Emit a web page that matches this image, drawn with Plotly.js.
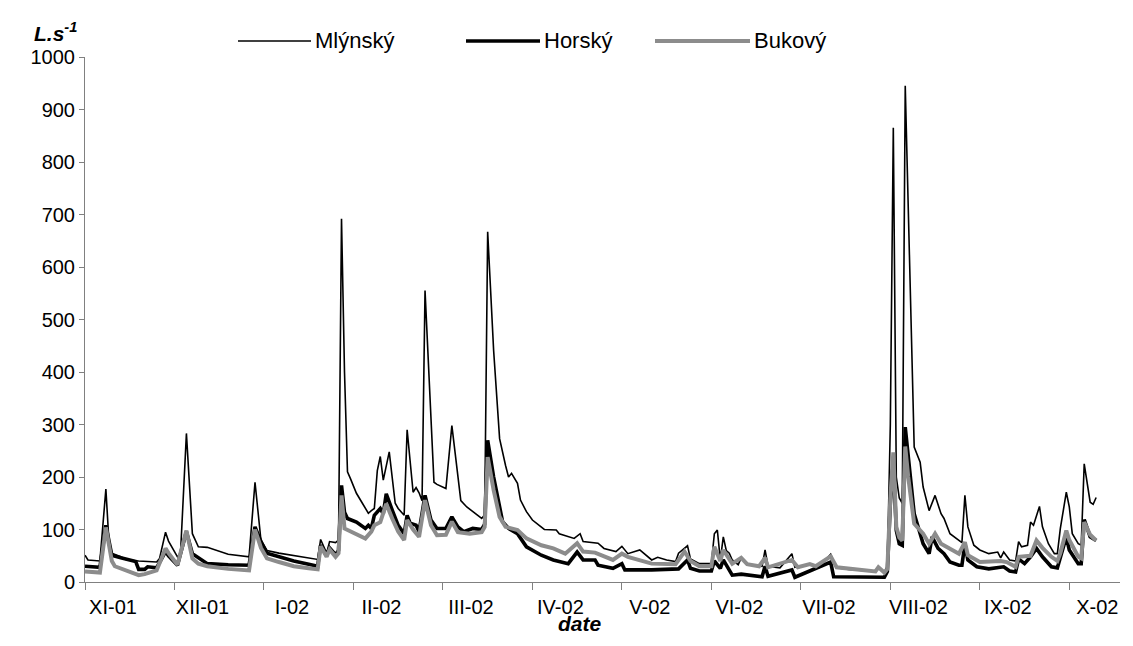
<!DOCTYPE html>
<html>
<head>
<meta charset="utf-8">
<script src="https://cdn.plot.ly/plotly-3.0.1.min.js"></script>
<style>html,body{margin:0;padding:0;background:#fff;}#chart{width:1133px;height:646px;}</style>
</head>
<body>
<div id="chart"></div>
<script>
// x = day index counted from the start of the record (1 Nov 2001)
var tickDays = [0, 30, 60, 90, 120, 150, 180, 210, 240, 270, 300, 330];
var tickLabels = ["XI-01", "XII-01", "I-02", "II-02", "III-02", "IV-02", "V-02", "VI-02", "VII-02", "VIII-02", "IX-02", "X-02"];

var seriesNames = ["Mlýnský", "Horský", "Bukový"];

var mlynskyDays = [0,1,5,7,8,9,12,14,18,24,25,27,28,31,32,34,36,38,41,48,55,57,59,61,65,70,75,78,79,81,82,84,85,86,87,88,89,91,93,95,96,97,98,99,100,102,104,105,107,108,110,111,112,113,114,117,118,120,121,123,125,126,128,131,133,134,135,137,138,139,141,142,143,145,146,148,150,154,158,159,164,166,167,172,174,178,180,182,186,190,192,195,198,199,202,203,206,210,211,212,213,214,215,216,217,219,220,222,227,228,229,233,237,238,243,246,250,252,256,265,266,268,269,270,271,272,273,274,275,276,277,278,280,281,283,285,287,288,290,293,294,295,296,298,300,303,306,307,308,310,312,313,314,316,317,318,319,320,321,323,325,326,327,329,330,331,333,334,335,337,338,339];
var mlynsky = [51,42,40,177,80,55,48,42,40,38,45,95,78,48,52,283,92,67,66,53,48,190,79,60,55,50,45,43,81,55,77,75,80,692,400,210,197,169,150,131,136,140,212,239,194,248,150,140,127,290,171,180,170,155,555,190,186,180,178,298,200,155,143,130,121,128,667,441,352,273,222,200,207,188,156,134,118,100,99,92,83,92,77,74,64,58,68,54,61,42,47,42,39,55,69,44,35,35,92,99,42,86,60,55,42,33,46,34,30,61,30,27,54,28,34,27,53,27,24,20,28,19,30,300,865,200,160,150,945,700,460,257,228,181,136,165,130,121,92,79,75,165,105,70,61,54,57,46,57,42,40,77,67,70,114,108,124,144,105,73,54,54,102,171,143,92,73,70,225,152,148,161];

var horskyDays = [0,5,7,9,12,17,18,20,21,24,27,28,31,34,36,41,48,55,57,59,61,65,70,75,78,79,81,82,84,85,86,87,88,91,94,95,96,97,99,100,101,103,105,107,108,109,111,112,114,116,118,121,123,125,127,130,133,134,135,137,139,140,142,145,148,153,157,162,165,167,171,172,177,180,181,190,199,202,203,206,210,211,213,214,217,220,227,228,229,237,238,250,251,268,269,270,271,272,273,274,275,276,278,280,281,283,284,286,288,290,293,294,295,296,299,303,308,310,312,313,315,317,319,321,324,326,327,329,330,333,334,335,337,339];
var horsky = [30,28,108,51,46,39,24,24,29,27,58,50,32,96,54,35,33,32,105,77,55,48,40,34,30,70,50,65,52,60,184,133,121,114,102,108,102,127,140,130,168,137,108,92,127,112,108,96,165,118,102,102,124,105,96,102,100,110,270,200,137,115,102,92,67,51,42,35,57,42,42,32,26,35,23,23,25,42,26,21,21,40,26,42,13,15,10,30,11,23,9,38,10,9,20,150,230,98,73,70,295,238,130,92,73,54,86,64,54,38,32,32,73,42,29,25,29,21,19,44,35,48,64,48,29,27,48,86,61,35,35,119,86,79];

var bukovyDays = [0,5,7,9,10,14,18,20,24,27,28,31,34,36,38,41,48,55,57,59,61,65,70,75,78,79,81,82,84,85,86,87,92,94,96,97,99,101,103,105,107,108,110,112,114,116,118,121,123,125,129,133,134,135,137,139,141,145,148,153,157,161,165,167,171,177,180,182,190,198,201,203,206,210,211,213,214,217,220,222,226,228,229,237,239,243,245,250,252,256,265,266,268,269,270,271,272,273,274,275,276,278,281,283,285,287,290,293,295,296,300,307,309,312,313,317,319,321,324,326,327,329,330,333,334,335,337,339];
var bukovy = [20,18,104,40,30,22,13,15,22,64,55,33,98,45,35,30,25,22,100,65,45,38,30,26,24,68,48,62,48,55,165,102,89,83,96,108,114,149,121,96,80,118,100,86,156,108,89,90,115,95,92,95,105,238,175,124,105,99,83,70,64,54,74,58,56,42,54,48,35,34,58,40,30,30,67,40,61,35,46,34,30,46,28,42,28,34,30,49,28,25,20,28,18,25,160,247,105,85,79,258,200,111,92,73,92,73,64,54,76,51,38,40,38,29,48,50,79,65,48,40,55,98,80,48,45,114,90,79];

// plot-area geometry helpers (pixels -> paper coordinates)
var L = 85, R = 1120, T = 57, B = 582;
function px(x) { return (x - L) / (R - L); }
function py(y) { return (B - y) / (B - T); }

var FONT = "Liberation Sans, Arial, sans-serif";

var traces = [
  {x: mlynskyDays, y: mlynsky, name: seriesNames[0], mode: "lines", line: {color: "#000000", width: 1.6}},
  {x: horskyDays, y: horsky, name: seriesNames[1], mode: "lines", line: {color: "#000000", width: 3.6}},
  {x: bukovyDays, y: bukovy, name: seriesNames[2], mode: "lines", line: {color: "#8c8c8c", width: 4}}
];

var legendItems = [
  {x0: 238, x1: 311, color: "#000000", width: 1.6, text: seriesNames[0], tx: 313},
  {x0: 466, x1: 540, color: "#000000", width: 3.6, text: seriesNames[1], tx: 542},
  {x0: 655, x1: 750, color: "#8c8c8c", width: 4, text: seriesNames[2], tx: 752}
];
var legendY = 41;
var shapes = [], annotations = [];
legendItems.forEach(function (it) {
  shapes.push({type: "line", xref: "paper", yref: "paper", x0: px(it.x0), x1: px(it.x1), y0: py(legendY), y1: py(legendY), line: {color: it.color, width: it.width}});
  annotations.push({xref: "paper", yref: "paper", x: px(it.tx), y: py(legendY), xanchor: "left", yanchor: "middle", text: it.text, showarrow: false, font: {family: FONT, size: 22, color: "#000"}});
});
annotations.push({xref: "paper", yref: "paper", x: px(32), y: py(32), xanchor: "left", yanchor: "middle", text: "<b><i>L.s<sup>-1</sup></i></b>", showarrow: false, font: {family: FONT, size: 21, color: "#000"}});
annotations.push({xref: "paper", yref: "paper", x: px(580), y: py(623), xanchor: "center", yanchor: "middle", text: "<b><i>date</i></b>", showarrow: false, font: {family: FONT, size: 21, color: "#000"}});

var layout = {
  width: 1133, height: 646,
  margin: {l: L, r: 1133 - R, t: T, b: 646 - B, pad: 0},
  paper_bgcolor: "#ffffff", plot_bgcolor: "#ffffff",
  showlegend: false,
  font: {family: FONT, size: 20, color: "#000"},
  xaxis: {
    range: [0, 347], showgrid: false, zeroline: false,
    showline: true, linecolor: "#808080", linewidth: 1,
    ticks: "outside", ticklen: 7, tickcolor: "#808080", tickwidth: 1,
    tickmode: "array", tickvals: tickDays, ticktext: tickLabels,
    ticklabelshift: 28, tickfont: {family: FONT, size: 20, color: "#000"}
  },
  yaxis: {
    range: [0, 1000], dtick: 100, showgrid: false, zeroline: false,
    showline: true, linecolor: "#808080", linewidth: 1,
    ticks: "outside", ticklen: 5, tickcolor: "#808080", tickwidth: 1,
    tickfont: {family: FONT, size: 20, color: "#000"}
  },
  shapes: shapes,
  annotations: annotations
};

Plotly.newPlot("chart", traces, layout, {displayModeBar: false, staticPlot: true});
</script>
</body>
</html>
